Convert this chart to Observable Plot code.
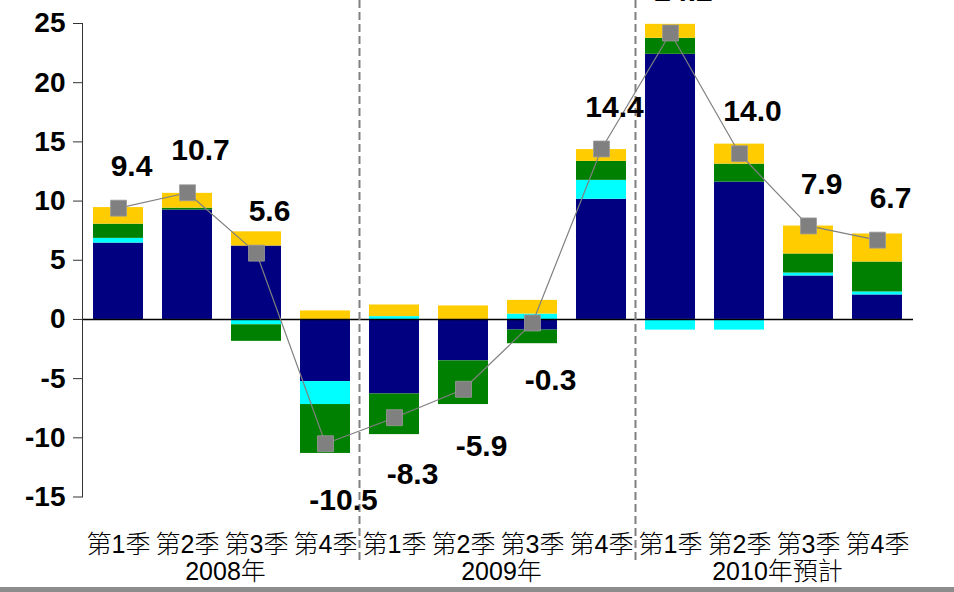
<!DOCTYPE html>
<html>
<head>
<meta charset="utf-8">
<script src="https://cdn.jsdelivr.net/npm/d3@7"></script>
<script src="https://cdn.jsdelivr.net/npm/@observablehq/plot@0.6"></script>
<style>
  html, body { margin: 0; padding: 0; background: #fff; }
  #wrap { width: 954px; height: 592px; position: relative; overflow: hidden; }
  #bottombar { position: absolute; left: 0; bottom: 0; width: 954px; height: 5px; background: #8c8c8c; }
</style>
</head>
<body>
<div id="wrap"><div id="chart"></div><div id="bottombar"></div></div>
<script>
// ---- data ----
const years = ["2008年", "2009年", "2010年預計"];
const quarters = ["第1季", "第2季", "第3季", "第4季"];
const seriesNames = ["項目一", "項目二", "項目三", "項目四"];
const seriesColors = ["#000080", "#00FFFF", "#008000", "#FFCC00"];
const navyValues  = [6.45, 9.25, 6.2, -5.25, -6.3, -3.5, -0.9, 10.15, 22.4, 11.6, 3.67, 2.07];
const cyanValues  = [0.4, 0, -0.45, -1.94, 0.24, 0, 0.45, 1.6, -0.9, -0.9, 0.25, 0.25];
const greenValues = [1.2, 0.15, -1.4, -4.13, -3.43, -3.69, -1.15, 1.6, 1.35, 1.52, 1.61, 2.53];
const goldValues  = [1.4, 1.25, 1.2, 0.72, 0.98, 1.14, 1.16, 1.0, 1.18, 1.69, 2.36, 2.37];
const totalValues = [9.4, 10.7, 5.6, -10.5, -8.3, -5.9, -0.3, 14.4, 24.2, 14.0, 7.9, 6.7];
const yTicks = [-15, -10, -5, 0, 5, 10, 15, 20, 25];

// ---- derived tables ----
const keys = years.flatMap(y => quarters.map(q => y + "|" + q));
const seriesArrays = [navyValues, cyanValues, greenValues, goldValues];
const barRows = keys.flatMap((k, i) => seriesArrays.map((arr, j) => ({key: k, series: seriesNames[j], value: arr[i]})));
const totals = keys.map((k, i) => ({key: k, value: totalValues[i]}));
const yearRows = years.map((y, i) => ({year: y, key: keys[i * 4 + 1]}));
const separators = [keys[3], keys[7]];

const font = "'Liberation Sans', Arial, 'Noto Sans CJK TC', sans-serif";

const chart = Plot.plot({
  width: 954,
  height: 587,
  marginLeft: 82,
  marginRight: 41,
  marginTop: 23,
  marginBottom: 90.5,
  style: {fontFamily: font, color: "#000", background: "#fff", overflow: "visible"},
  x: {type: "band", domain: keys, paddingInner: 0.28, paddingOuter: 0.14, axis: null},
  y: {domain: [-15, 25], axis: null},
  color: {domain: seriesNames, range: seriesColors},
  marks: [
    Plot.barY(barRows, {x: "key", y: "value", fill: "series"}),
    Plot.ruleY([0], {stroke: "#000", strokeWidth: 1.5}),
    Plot.ruleX(separators, {x: d => d, dx: 34, stroke: "#808080", strokeWidth: 2, strokeDasharray: "8,4", insetTop: -23, insetBottom: -63.5}),
    Plot.frame({anchor: "left", stroke: "#333", strokeWidth: 1}),
    Plot.axisY({ticks: yTicks, tickFormat: d => String(d), tickSize: 9, tickPadding: 8, fontSize: 28, fontWeight: "bold", label: null, stroke: "#333", fill: "#000"}),
    Plot.axisX({tickSize: 0, tickPadding: 38, fontSize: 25, fontWeight: 300, label: null, tickFormat: d => d.split("|")[1], fill: "#000", fontFamily: font}),
    Plot.text(yearRows, {x: "key", text: "year", frameAnchor: "bottom", dx: 38, dy: 83, fontSize: 25, fontWeight: 300, fill: "#000"}),
    Plot.line(totals, {x: "key", y: "value", stroke: "#808080", strokeWidth: 1.2}),
    Plot.dot(totals, {x: "key", y: "value", symbol: "square", r: 9, fill: "#808080", stroke: "#9a9a9a", strokeWidth: 0.8}),
    Plot.text(totals, {filter: d => d.value >= 0, x: "key", y: "value", text: d => d.value.toFixed(1), dx: 13, dy: -42, fontSize: 30, fontWeight: "bold", fill: "#000"}),
    Plot.text(totals, {filter: d => d.value < 0, x: "key", y: "value", text: d => d.value.toFixed(1), dx: 18, dy: 57, fontSize: 30, fontWeight: "bold", fill: "#000"})
  ]
});
document.getElementById("chart").appendChild(chart);
</script>
</body>
</html>
